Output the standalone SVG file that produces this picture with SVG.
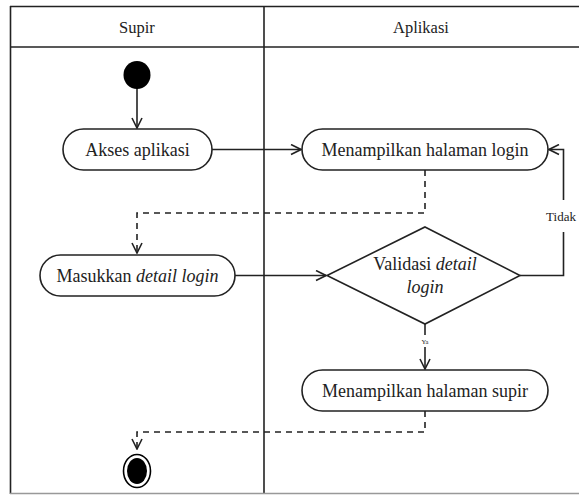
<svg xmlns="http://www.w3.org/2000/svg" width="579" height="495" viewBox="0 0 579 495">
<style>
.lane{fill:none;stroke:#222;stroke-width:1.6}
.node{fill:#fff;stroke:#222;stroke-width:1.6}
.t{font-family:"Liberation Serif","Times New Roman",serif;fill:#222;text-anchor:middle;dominant-baseline:central}
.c{fill:none;stroke:#222;stroke-width:1.6}
.d{fill:none;stroke:#222;stroke-width:1.6;stroke-dasharray:6,5}
</style>
<defs>
<marker id="arr" viewBox="0 0 12 12" refX="11" refY="6" markerWidth="12" markerHeight="12" markerUnits="userSpaceOnUse" orient="auto">
<path d="M1,1 L11,6 L1,11" fill="none" stroke="#222" stroke-width="1.6"/>
</marker>
</defs>
<rect width="579" height="495" fill="#fff"/>
<g id="swimlanes">
<line class="lane" x1="10" y1="6.5" x2="579" y2="6.5"/>
<line class="lane" x1="10" y1="47" x2="579" y2="47"/>
<line class="lane" x1="10.5" y1="6" x2="10.5" y2="494"/>
<line class="lane" x1="264" y1="6" x2="264" y2="494"/>
<line x1="10" y1="493.5" x2="579" y2="493.5" stroke="#999" stroke-width="1.6"/>
<text class="t" x="137" y="27" font-size="16.5">Supir</text>
<text class="t" x="421" y="27" font-size="16.5">Aplikasi</text>
</g>
<g id="connectors">
<line class="c" x1="137" y1="88" x2="137" y2="128" marker-end="url(#arr)"/>
<line class="c" x1="212" y1="149.5" x2="301" y2="149.5" marker-end="url(#arr)"/>
<polyline class="d" points="425,170 425,213 137,213 137,253" marker-end="url(#arr)"/>
<line class="c" x1="235" y1="275.5" x2="326" y2="275.5" marker-end="url(#arr)"/>
<polyline class="c" points="520,275.5 563.5,275.5 563.5,232"/>
<polyline class="c" points="563.5,200 563.5,149.5 549,149.5" marker-end="url(#arr)"/>
<text class="t" x="561" y="216" font-size="13">Tidak</text>
<line class="c" x1="425" y1="324" x2="425" y2="335"/>
<text class="t" x="425" y="341" font-size="6.5">Ya</text>
<line class="c" x1="425" y1="347" x2="425" y2="369" marker-end="url(#arr)"/>
<polyline class="d" points="425,411 425,432 137,432 137,449" marker-end="url(#arr)"/>
</g>
<g id="start">
<ellipse cx="137" cy="75" rx="13.5" ry="14" fill="#000"/>
</g>
<g id="akses">
<rect class="node" x="63" y="129" width="149" height="41" rx="20.5"/>
<text class="t" x="137.5" y="149.5" font-size="18">Akses aplikasi</text>
</g>
<g id="login">
<rect class="node" x="302" y="129" width="246" height="41" rx="20.5"/>
<text class="t" x="425" y="149.5" font-size="18">Menampilkan halaman login</text>
</g>
<g id="masukkan">
<rect class="node" x="40" y="255" width="195" height="41" rx="20.5"/>
<text class="t" x="137.5" y="275.5" font-size="18">Masukkan <tspan font-style="italic">detail login</tspan></text>
</g>
<g id="validasi">
<polygon class="node" points="425,227 520,275.5 425,324 327,275.5"/>
<text class="t" x="425" y="264" font-size="18">Validasi <tspan font-style="italic">detail</tspan></text>
<text class="t" x="425" y="287" font-size="18" font-style="italic">login</text>
</g>
<g id="supir">
<rect class="node" x="302" y="370" width="246" height="41" rx="20.5"/>
<text class="t" x="425" y="390.5" font-size="18">Menampilkan halaman supir</text>
</g>
<g id="end">
<ellipse cx="137" cy="471" rx="13.5" ry="16.5" fill="#fff" stroke="#000" stroke-width="1.6"/>
<ellipse cx="137" cy="471" rx="10" ry="13" fill="#000"/>
</g>
</svg>
